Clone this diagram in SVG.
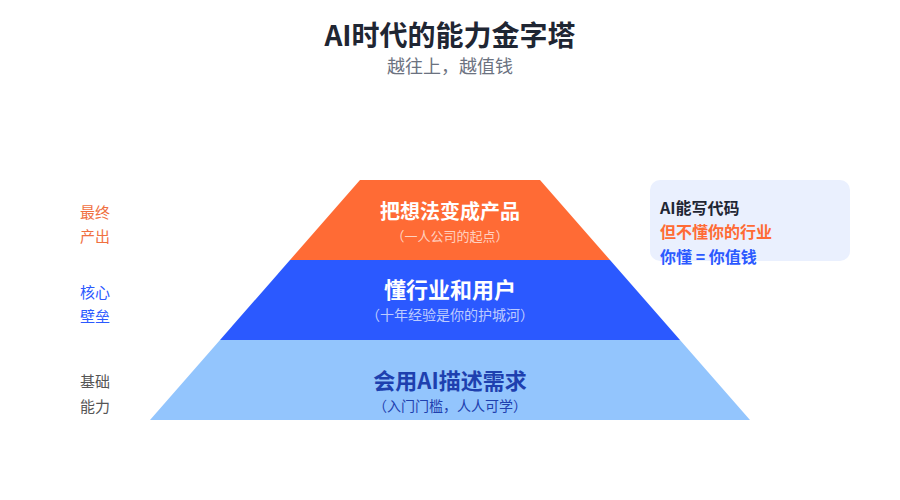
<svg xmlns="http://www.w3.org/2000/svg" width="900" height="500" viewBox="0 0 900 500">
<style>
text{font-family:"Noto Sans CJK SC","Noto Sans",sans-serif}
.title{font-size:28px;font-weight:700;fill:#1f2633;text-anchor:middle}
.sub{font-size:18px;fill:#6b7280;text-anchor:middle}
.main{font-size:22px;font-weight:700;text-anchor:middle}
.note{font-size:14px;text-anchor:middle}
.side{font-size:15px}
.card{font-size:16px;font-weight:700}
</style>
<rect width="900" height="500" fill="#ffffff"/>
<text class="title" x="450" y="46">AI时代的能力金字塔</text>
<text class="sub" x="450" y="73">越往上，越值钱</text>
<g id="layer-top">
<polygon points="360,180 540,180 610,260 290,260" fill="#FF6B35"/>
<text class="main" x="450" y="219" fill="#ffffff" style="font-size:20px">把想法变成产品</text>
<text class="note" x="450" y="241" fill="#ffffff" fill-opacity="0.7" style="font-size:13px">（一人公司的起点）</text>
</g>
<g id="layer-mid">
<polygon points="290,260 610,260 680,340 220,340" fill="#2B59FF"/>
<text class="main" x="450" y="298" fill="#ffffff">懂行业和用户</text>
<text class="note" x="450" y="320" fill="#ffffff" fill-opacity="0.7">（十年经验是你的护城河）</text>
</g>
<g id="layer-base">
<polygon points="220,340 680,340 750,420 150,420" fill="#93C5FD"/>
<text class="main" x="450" y="389" fill="#1E40AF">会用AI描述需求</text>
<text class="note" x="450" y="411" fill="#1E40AF">（入门门槛，人人可学）</text>
</g>
<g id="label-top">
<text class="side" x="80" y="218" fill="#F0703F">最终</text>
<text class="side" x="80" y="242" fill="#F0703F">产出</text>
</g>
<g id="label-mid">
<text class="side" x="80" y="298" fill="#2B59FF">核心</text>
<text class="side" x="80" y="322" fill="#2B59FF">壁垒</text>
</g>
<g id="label-base">
<text class="side" x="80" y="387" fill="#555555">基础</text>
<text class="side" x="80" y="412" fill="#555555">能力</text>
</g>
<g id="card">
<rect x="650" y="180" width="200" height="81" rx="10" fill="#EAF0FE"/>
<text class="card" x="660" y="214" fill="#1f2633">AI能写代码</text>
<text class="card" x="660" y="238" fill="#FF6B35">但不懂你的行业</text>
<text class="card" x="660" y="263" fill="#2B59FF">你懂 = 你值钱</text>
</g>
</svg>
